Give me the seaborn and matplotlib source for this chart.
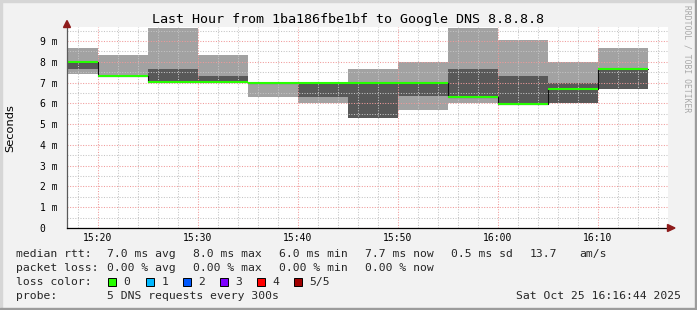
import matplotlib
matplotlib.use("Agg")
import matplotlib.pyplot as plt
from matplotlib.patches import Rectangle, Polygon
import numpy as np
import pandas as pd
import seaborn as sns

# ---------------- data (ms) ----------------
seg_start = [15, 20, 25, 30, 35, 40, 45, 50, 55, 60, 65, 70]   # minutes after 15:00
seg_len = 5
ping_min  = [7.40, 7.30, 7.00, 7.00, 6.32, 6.03, 5.31, 5.68, 6.03, 5.97, 6.03, 6.70]
ping_lo   = [7.65, 7.30, 7.00, 7.00, 7.00, 6.32, 5.31, 6.35, 6.30, 5.97, 6.03, 6.70]
ping_med  = [7.98, 7.31, 7.02, 7.02, 7.00, 7.00, 7.00, 7.00, 6.31, 5.99, 6.70, 7.67]
ping_hi   = [7.98, 7.32, 7.65, 7.33, 7.00, 7.00, 7.00, 7.00, 7.65, 7.31, 6.99, 7.67]
ping_max  = [8.68, 8.34, 9.64, 8.34, 7.00, 7.00, 7.65, 8.00, 9.64, 9.05, 8.00, 8.65]

x_ticks = [20, 30, 40, 50, 60, 70]
x_tick_labels = ["15:20", "15:30", "15:40", "15:50", "16:00", "16:10"]
y_ticks = [0, 1, 2, 3, 4, 5, 6, 7, 8, 9]
y_tick_labels = ["0  ", "1 m", "2 m", "3 m", "4 m", "5 m", "6 m", "7 m", "8 m", "9 m"]

title = "Last Hour from 1ba186fbe1bf to Google DNS 8.8.8.8"
row1 = [("median rtt:", 16), ("7.0 ms avg", 107), ("8.0 ms max", 193), ("6.0 ms min", 279),
        ("7.7 ms now", 365), ("0.5 ms sd", 451), ("13.7", 530), ("am/s", 579)]
row2 = [("packet loss:", 16), ("0.00 % avg", 107), ("0.00 % max", 193), ("0.00 % min", 279),
        ("0.00 % now", 365)]
loss_labels = ["0", "1", "2", "3", "4", "5/5"]
loss_colors = ["#26ff00", "#00b8ff", "#0059ff", "#7e00ff", "#ff0000", "#a10000"]
loss_box_x = [108, 146, 183, 220, 257, 294]
probe_text = "5 DNS requests every 300s"
date_text = "Sat Oct 25 16:16:44 2025"

# ---------------- style ----------------
sns.set_theme(style="white")
plt.rcParams["font.family"] = ["DejaVu Sans Mono", "DejaVu Sans"]

W, H = 697, 310
fig = plt.figure(figsize=(W / 100, H / 100), dpi=100)
fig.patch.set_facecolor("#f2f2f2")

def fx(px):
    return px / W

def fy(py):
    return 1 - py / H

left, right, top, bottom = 67, 667.7, 27.3, 228
ax = fig.add_axes([fx(left), fy(bottom), (right - left) / W, (bottom - top) / H])
ax.set_facecolor("white")

starts = np.array(seg_start, dtype=float)
ends = starts + seg_len
pmin, plo, pmed, phi, pmax = map(np.array, (ping_min, ping_lo, ping_med, ping_hi, ping_max))

ax.bar(starts, pmax - pmin, bottom=pmin, width=seg_len, align="edge",
       color="#a2a2a2", edgecolor="none", linewidth=0, zorder=1)
ax.bar(starts, phi - plo, bottom=plo, width=seg_len, align="edge",
       color="#585858", edgecolor="none", linewidth=0, zorder=1.1)

df = pd.DataFrame({"t": list(starts) + [ends[-1]], "med": list(pmed) + [pmed[-1]]})
sns.lineplot(data=df, x="t", y="med", drawstyle="steps-post", color="#101010",
             linewidth=0.8, ax=ax, zorder=3)
ax.hlines(pmed, starts, ends, color="#26ff00", linewidth=1.5, zorder=4)

ax.set_xlim(16.9, 76.97)
ax.set_ylim(0, (bottom - top) / 20.78)

ax.set_xticks(x_ticks)
ax.set_xticklabels(x_tick_labels)
ax.set_xticks(np.arange(18, 77, 2), minor=True)
ax.set_yticks(y_ticks)
ax.set_yticklabels(y_tick_labels)
ax.set_yticks(np.arange(0.5, 9.6, 1.0), minor=True)
ax.set_xlabel("")
ax.set_ylabel("")

ax.set_axisbelow(False)
ax.grid(True, which="major", color="#f09a9a", linestyle=(0, (1, 1.5)), linewidth=0.75)
ax.grid(True, which="minor", color="#c4c4c4", linestyle=(0, (1, 1.5)), linewidth=0.75)

for s in ("top", "right"):
    ax.spines[s].set_visible(False)
ax.spines["left"].set_color("#5a5a5a")
ax.spines["left"].set_linewidth(0.9)
ax.spines["bottom"].set_color("#000000")
ax.spines["bottom"].set_linewidth(0.9)
ax.spines["left"].set_zorder(5)
ax.spines["bottom"].set_zorder(5)

ax.tick_params(axis="both", which="major", direction="inout", length=5, width=0.7,
               color="#404040", labelsize=7, labelcolor="#000000")
ax.tick_params(axis="both", which="minor", direction="inout", length=3, width=0.7,
               color="#606060")
ax.tick_params(axis="x", which="major", pad=1)
ax.tick_params(axis="y", which="major", pad=4)
for lab in ax.get_yticklabels() + ax.get_xticklabels():
    lab.set_family("DejaVu Sans Mono")

# arrows
arrow_col = "#8e1b1b"
fig.patches.append(Polygon([[fx(63.5), fy(27.5)], [fx(70.5), fy(27.5)], [fx(67), fy(20.5)]],
                           closed=True, transform=fig.transFigure, color=arrow_col, zorder=6))
fig.patches.append(Polygon([[fx(667.5), fy(224.5)], [fx(667.5), fy(231.5)], [fx(675), fy(228)]],
                           closed=True, transform=fig.transFigure, color=arrow_col, zorder=6))

# frame
fig.patches.append(Rectangle((0, fy(2)), 1, 2 / H, transform=fig.transFigure, color="#d6d6d6", zorder=0))
fig.patches.append(Rectangle((0, 0), 2 / W, 1, transform=fig.transFigure, color="#d6d6d6", zorder=0))
fig.patches.append(Rectangle((0, 0), 1, 2 / H, transform=fig.transFigure, color="#9c9c9c", zorder=0))
fig.patches.append(Rectangle((fx(695), 0), 2 / W, 1, transform=fig.transFigure, color="#9c9c9c", zorder=0))

# texts
fig.text(fx(348), fy(19), title, ha="center", va="center", fontsize=9.6,
         family="DejaVu Sans Mono", color="#000000")
fig.text(fx(10), fy(128), "Seconds", ha="center", va="center", rotation=90,
         fontsize=8.2, family="DejaVu Sans", color="#000000")
fig.text(fx(687), fy(5), "RRDTOOL / TOBI OETIKER", ha="center", va="top", rotation=270,
         fontsize=5.8, family="DejaVu Sans Mono", color="#a8a8a8")

fs = 8.2
for txt, x in row1:
    fig.text(fx(x), fy(254), txt, ha="left", va="center", fontsize=fs, family="DejaVu Sans Mono")
for txt, x in row2:
    fig.text(fx(x), fy(268), txt, ha="left", va="center", fontsize=fs, family="DejaVu Sans Mono")
fig.text(fx(16), fy(282), "loss color:", ha="left", va="center", fontsize=fs, family="DejaVu Sans Mono")
for lab, col, bx in zip(loss_labels, loss_colors, loss_box_x):
    fig.patches.append(Rectangle((fx(bx), fy(286)), 8 / W, 8 / H, transform=fig.transFigure,
                                 facecolor=col, edgecolor="#000000", linewidth=0.7, zorder=5))
    fig.text(fx(bx + 15.5), fy(282), lab, ha="left", va="center", fontsize=fs, family="DejaVu Sans Mono")
fig.text(fx(16), fy(296), "probe:", ha="left", va="center", fontsize=fs, family="DejaVu Sans Mono")
fig.text(fx(107), fy(296), probe_text, ha="left", va="center", fontsize=fs, family="DejaVu Sans Mono")
fig.text(fx(681), fy(296), date_text, ha="right", va="center", fontsize=fs, family="DejaVu Sans Mono")

fig.savefig("out.png", dpi=100, facecolor=fig.get_facecolor())
